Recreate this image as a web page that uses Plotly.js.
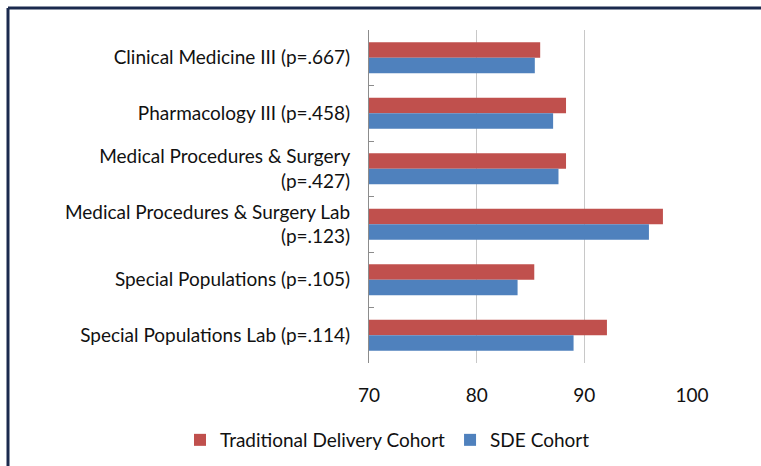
<!DOCTYPE html>
<html>
<head>
<meta charset="utf-8">
<script src="https://cdn.plot.ly/plotly-3.0.1.min.js"></script>
<style>
  html, body { margin: 0; padding: 0; background: #ffffff; }
  #chart { width: 761px; height: 466px; }
</style>
</head>
<body>
<div id="chart"></div>
<script>
const categories = [
  "Clinical Medicine III (p=.667)",
  "Pharmacology III (p=.458)",
  "Medical Procedures & Surgery<br>(p=.427)",
  "Medical Procedures & Surgery Lab<br>(p=.123)",
  "Special Populations (p=.105)",
  "Special Populations Lab (p=.114)"
];
const traditionalValues = [85.9, 88.3, 88.3, 97.3, 85.35, 92.1];
const sdeValues = [85.4, 87.1, 87.6, 96.0, 83.8, 89.0];
const xTickValues = [70, 80, 90, 100];
const seriesNames = ["Traditional Delivery Cohort", "SDE Cohort"];

const textColor = "#111111";
const fontFamily = "Lato, 'Open Sans', sans-serif";
const fontSize = 19;

const traces = [
  {
    type: "bar", orientation: "h",
    name: seriesNames[0],
    y: categories, x: traditionalValues,
    marker: { color: "#C0504D" },
    hoverinfo: "x+name"
  },
  {
    type: "bar", orientation: "h",
    name: seriesNames[1],
    y: categories, x: sdeValues,
    marker: { color: "#4F81BD" },
    hoverinfo: "x+name"
  }
];

const layout = {
  width: 761, height: 466,
  paper_bgcolor: "#ffffff",
  plot_bgcolor: "#ffffff",
  margin: { l: 369, r: 69, t: 30, b: 103, autoexpand: false },
  barmode: "group",
  bargap: 0.44,
  bargroupgap: 0,
  font: { family: fontFamily, size: fontSize, color: textColor },
  xaxis: {
    range: [70, 100],
    tickvals: xTickValues,
    ticktext: xTickValues.map(String),
    showgrid: true,
    gridcolor: "#c8c8c8",
    gridwidth: 1,
    zeroline: false,
    showline: false,
    ticks: "",
    ticklabelstandoff: 19,
    tickfont: { family: fontFamily, size: fontSize, color: textColor },
    fixedrange: true
  },
  yaxis: {
    type: "category",
    autorange: "reversed",
    showgrid: false,
    zeroline: false,
    showline: true,
    linecolor: "#8c8c8c",
    linewidth: 1,
    ticks: "inside",
    tickson: "boundaries",
    ticklen: 5,
    tickcolor: "#8c8c8c",
    ticklabelstandoff: 14,
    tickfont: { family: fontFamily, size: fontSize, color: textColor },
    fixedrange: true
  },
  showlegend: true,
  legend: {
    orientation: "h",
    x: (180 - 369) / 323, xanchor: "left",
    y: (363 - 440) / 333, yanchor: "middle",
    font: { family: fontFamily, size: fontSize, color: textColor },
    itemwidth: 30,
    tracegroupgap: 0,
    bgcolor: "rgba(0,0,0,0)"
  },
  shapes: [
    {
      type: "line", xref: "paper", yref: "paper",
      x0: -361 / 323, x1: 1.3, y0: (363 - 8) / 333, y1: (363 - 8) / 333,
      line: { color: "#1b2a4e", width: 3 }
    },
    {
      type: "line", xref: "paper", yref: "paper",
      x0: -361 / 323, x1: -361 / 323, y0: (363 - 8) / 333, y1: -0.4,
      line: { color: "#1b2a4e", width: 3 }
    }
  ]
};

Plotly.newPlot("chart", traces, layout, { displayModeBar: false, staticPlot: true });
</script>
</body>
</html>
